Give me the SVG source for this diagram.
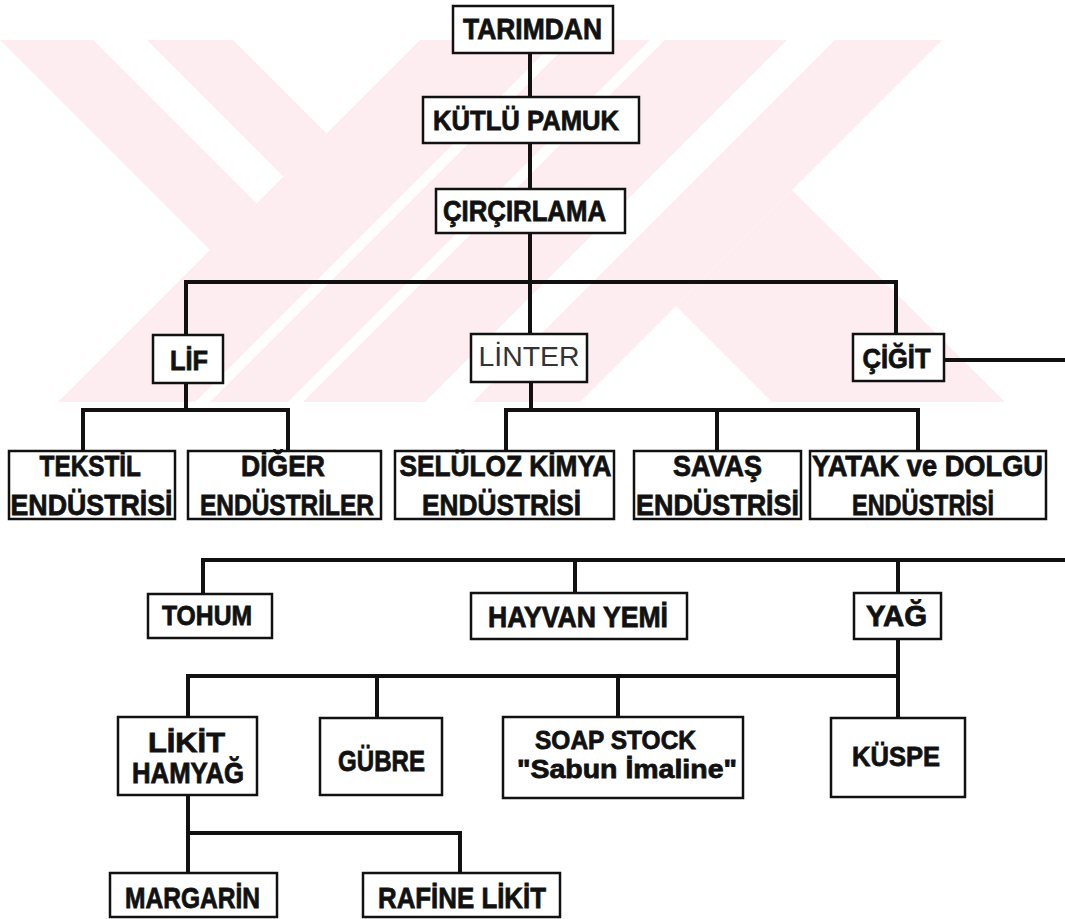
<svg xmlns="http://www.w3.org/2000/svg" width="1065" height="919" viewBox="0 0 1065 919">
<style>
.wm{fill:#fdedf0;stroke:none}
.box{fill:#fff;stroke:#111;stroke-width:2.5}
.ln{stroke:#111;stroke-width:4;fill:none;stroke-linecap:square}
.t{font-family:"Liberation Sans",Arial,sans-serif;font-weight:bold;fill:#111;stroke:#111;stroke-width:0.8}
.r{font-family:"Liberation Sans",Arial,sans-serif;font-weight:normal;fill:#333}
</style>
<rect width="1065" height="919" fill="#fff"/>
<g id="watermark">
<polygon class="wm" points="0,40 93,40 256.5,203.5 210,250"/>
<polygon class="wm" points="147,40 233,40 326.5,133.5 283.5,176.5"/>
<polygon class="wm" points="420,40 557,40 195,402 58,402"/>
<polygon class="wm" points="572,40 650,40 288,402 210,402"/>
<polygon class="wm" points="665,40 787,40 425,402 303,402"/>
<polygon class="wm" points="835,40 942,40 580,402 473,402"/>
<polygon class="wm" points="792,190 1005,402 772,402 676,306"/>
</g>
<g id="connectors">
<path class="ln" d="M530,53V97 M530,143V189 M530,233V282 M186,282H896 M186,282V335 M530,282V334 M896,282V334 M944,360H1065"/>
<path class="ln" d="M186,383V410 M83,410H288 M83,410V451 M288,410V451"/>
<path class="ln" d="M531,382V410 M506,410H918 M506,410V451 M717,410V451 M918,410V451"/>
<path class="ln" d="M203,560H1065 M203,560V594 M575,560V593 M898,560V593"/>
<path class="ln" d="M898,639V718 M188,676H898 M188,676V717 M377,676V718 M618,676V717"/>
<path class="ln" d="M188,795V873 M188,833H460 M460,833V873"/>
</g>
<g id="n-tarimdan"><rect class="box" x="453" y="6" width="160" height="47"/><text class="t" x="463" y="39" font-size="30" textLength="139" lengthAdjust="spacingAndGlyphs">TARIMDAN</text></g>
<g id="n-kutlu"><rect class="box" x="423" y="97" width="216" height="46"/><text class="t" x="433" y="130" font-size="28" textLength="186" lengthAdjust="spacingAndGlyphs">KÜTLÜ PAMUK</text></g>
<g id="n-circirlama"><rect class="box" x="436" y="189" width="189" height="44"/><text class="t" x="443" y="221" font-size="29" textLength="163" lengthAdjust="spacingAndGlyphs">ÇIRÇIRLAMA</text></g>
<g id="n-lif"><rect class="box" x="153" y="335" width="70" height="48"/><text class="t" x="170" y="370" font-size="28" textLength="38" lengthAdjust="spacingAndGlyphs">LİF</text></g>
<g id="n-linter"><rect class="box" x="471" y="334" width="116" height="48"/><text class="r" x="478.5" y="366" font-size="28" textLength="101" lengthAdjust="spacingAndGlyphs">LİNTER</text></g>
<g id="n-cigit"><rect class="box" x="853" y="334" width="91" height="47"/><text class="t" x="862.5" y="368" font-size="28" textLength="68" lengthAdjust="spacingAndGlyphs">ÇİĞİT</text></g>
<g id="n-tekstil"><rect class="box" x="9" y="451" width="166" height="68"/><text class="t" x="39.5" y="476" font-size="30" textLength="101.5" lengthAdjust="spacingAndGlyphs">TEKSTİL</text><text class="t" x="10.5" y="515" font-size="30" textLength="162" lengthAdjust="spacingAndGlyphs">ENDÜSTRİSİ</text></g>
<g id="n-diger"><rect class="box" x="188" y="451" width="193" height="68"/><text class="t" x="241" y="476" font-size="30" textLength="84" lengthAdjust="spacingAndGlyphs">DİĞER</text><text class="t" x="200" y="515" font-size="30" textLength="174" lengthAdjust="spacingAndGlyphs">ENDÜSTRİLER</text></g>
<g id="n-seluloz"><rect class="box" x="395" y="451" width="219" height="68"/><text class="t" x="399.5" y="476" font-size="30" textLength="212" lengthAdjust="spacingAndGlyphs">SELÜLOZ KİMYA</text><text class="t" x="422" y="515" font-size="30" textLength="159" lengthAdjust="spacingAndGlyphs">ENDÜSTRİSİ</text></g>
<g id="n-savas"><rect class="box" x="634" y="451" width="167" height="68"/><text class="t" x="673" y="476" font-size="30" textLength="89" lengthAdjust="spacingAndGlyphs">SAVAŞ</text><text class="t" x="636" y="515" font-size="30" textLength="163" lengthAdjust="spacingAndGlyphs">ENDÜSTRİSİ</text></g>
<g id="n-yatak"><rect class="box" x="810" y="451" width="236" height="68"/><text class="t" x="812" y="476" font-size="30" textLength="231" lengthAdjust="spacingAndGlyphs">YATAK ve DOLGU</text><text class="t" x="852" y="515" font-size="30" textLength="142" lengthAdjust="spacingAndGlyphs">ENDÜSTRİSİ</text></g>
<g id="n-tohum"><rect class="box" x="148" y="594" width="124" height="44"/><text class="t" x="162" y="625" font-size="27" textLength="90" lengthAdjust="spacingAndGlyphs">TOHUM</text></g>
<g id="n-hayvan"><rect class="box" x="471" y="593" width="216" height="46"/><text class="t" x="488" y="627" font-size="29" textLength="180" lengthAdjust="spacingAndGlyphs">HAYVAN YEMİ</text></g>
<g id="n-yag"><rect class="box" x="854" y="593" width="87" height="46"/><text class="t" x="866" y="626" font-size="29" textLength="61" lengthAdjust="spacingAndGlyphs">YAĞ</text></g>
<g id="n-likit"><rect class="box" x="118" y="717" width="139" height="78"/><text class="t" x="148" y="752" font-size="28" textLength="77" lengthAdjust="spacingAndGlyphs">LİKİT</text><text class="t" x="132" y="783" font-size="29" textLength="112" lengthAdjust="spacingAndGlyphs">HAMYAĞ</text></g>
<g id="n-gubre"><rect class="box" x="320" y="718" width="122" height="77"/><text class="t" x="338" y="771" font-size="30" textLength="87" lengthAdjust="spacingAndGlyphs">GÜBRE</text></g>
<g id="n-soap"><rect class="box" x="503" y="717" width="240" height="81"/><text class="t" x="535" y="749" font-size="26" textLength="161" lengthAdjust="spacingAndGlyphs">SOAP STOCK</text><text class="t" x="517" y="778" font-size="26" textLength="220" lengthAdjust="spacingAndGlyphs">"Sabun İmaline"</text></g>
<g id="n-kuspe"><rect class="box" x="831" y="718" width="134" height="79"/><text class="t" x="852" y="766" font-size="28" textLength="88" lengthAdjust="spacingAndGlyphs">KÜSPE</text></g>
<g id="n-margarin"><rect class="box" x="110" y="873" width="167" height="44"/><text class="t" x="125" y="908" font-size="30" textLength="135" lengthAdjust="spacingAndGlyphs">MARGARİN</text></g>
<g id="n-rafine"><rect class="box" x="363" y="873" width="197" height="44"/><text class="t" x="378" y="908" font-size="30" textLength="168" lengthAdjust="spacingAndGlyphs">RAFİNE LİKİT</text></g>
</svg>
